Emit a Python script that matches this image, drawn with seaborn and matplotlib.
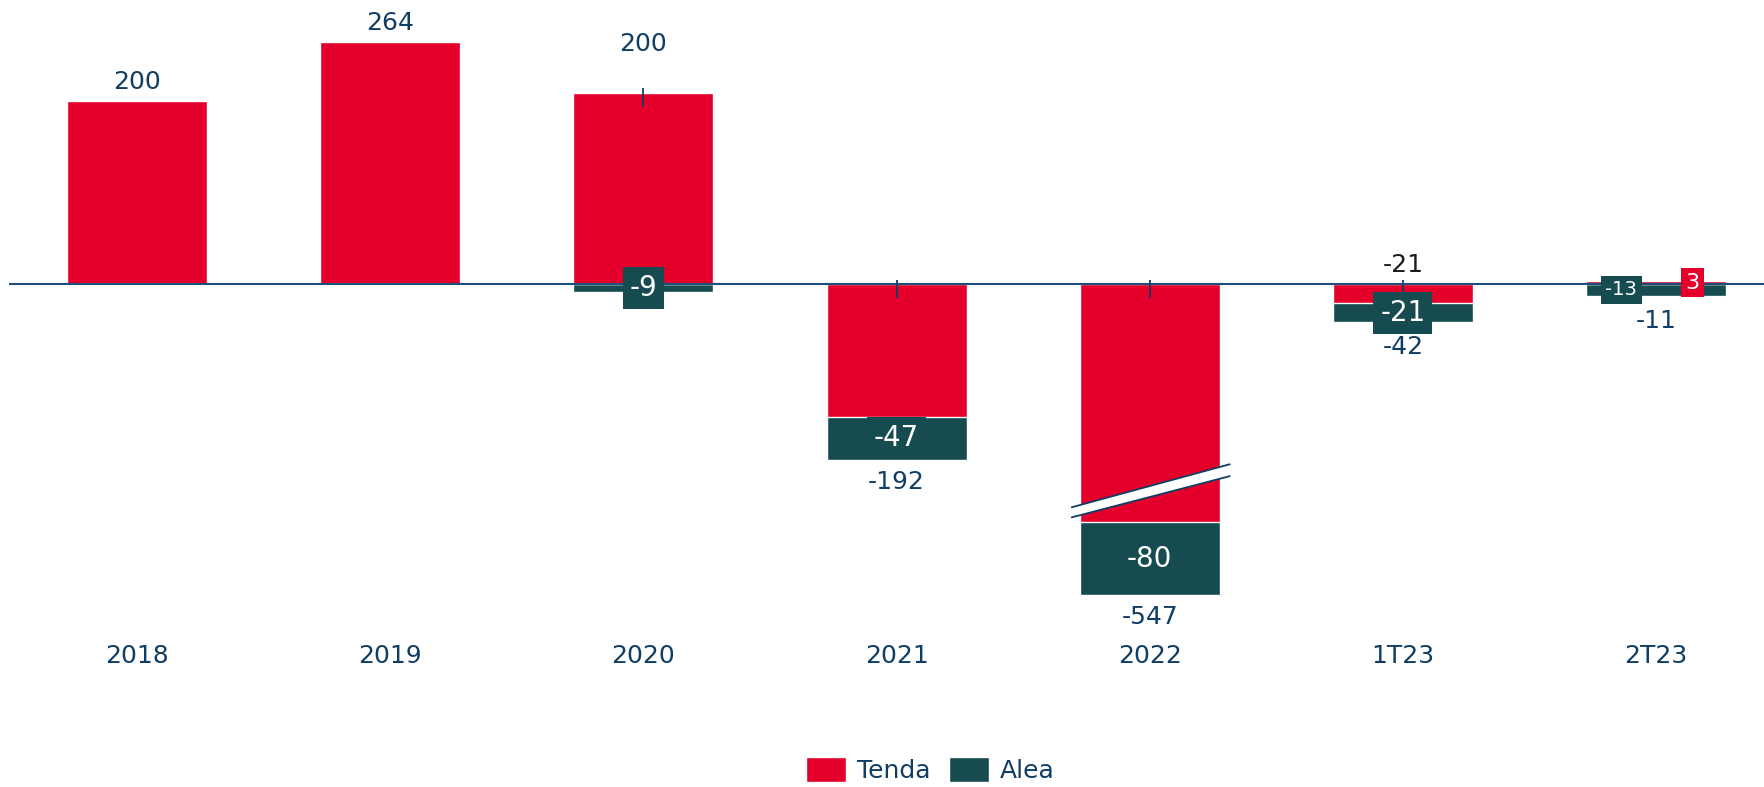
import numpy as np
import pandas as pd
import matplotlib
matplotlib.use('Agg')
import matplotlib.pyplot as plt
import seaborn as sns
from matplotlib.patches import Patch, Polygon

periodos = ['2018', '2019', '2020', '2021', '2022', '1T23', '2T23']
tenda = [200, 264, 209, -145, -467, -21, 3]
alea = [0, 0, -9, -47, -80, -21, -13]
total = [200, 264, 200, -192, -547, -42, -11]
# pequenas marcas verticais que aparecem no gráfico original
marca_sup = [np.nan, np.nan, 214, 4, 4, 4, np.nan]
marca_inf = [np.nan, np.nan, 193, -15, -15, -10, np.nan]

corte_2022 = -260  # barra de 2022 truncada (eixo quebrado)

VERMELHO = '#e4002b'
VERDE = '#164b4f'
AZUL = '#0f3d64'
FS = 18

sns.set_theme(style='white')
plt.rcParams['font.family'] = ['DejaVu Sans']

tenda_plot = [max(v, corte_2022) for v in tenda]
alea_plot = [min(t, 0) + a for t, a in zip(tenda_plot, alea)]

df = pd.DataFrame({'periodo': periodos, 'tenda': tenda_plot, 'alea': alea_plot})

fig = plt.figure(figsize=(17.65, 7.87), dpi=100)
ax = fig.add_axes([0.005, 167 / 787, 0.995, 620 / 787])

sns.barplot(data=df, x='periodo', y='alea', color=VERDE, width=0.553,
            saturation=1, ax=ax)
sns.barplot(data=df, x='periodo', y='tenda', color=VERMELHO, width=0.553,
            saturation=1, ax=ax)

ax.set_xlim(-0.506, 6.43)
ax.set_ylim(-367.2, 310.4)
ax.axhline(0, color='#1d4f7a', lw=1.5, zorder=5)
ax.vlines(range(len(periodos)), marca_inf, marca_sup, color=AZUL, lw=1.3, zorder=6)

for s in ax.spines.values():
    s.set_visible(False)
ax.set_yticks([])
ax.set_xlabel('')
ax.set_ylabel('')
ax.tick_params(axis='x', length=0, pad=17, labelsize=FS, labelcolor=AZUL)

# quebra do eixo em 2022
i22 = periodos.index('2022')
xl, xr = i22 - 0.308, i22 + 0.316
band = Polygon([(xl, corte_2022 + 5), (xr, corte_2022 + 50),
                (xr, corte_2022 + 63), (xl, corte_2022 + 16)],
               closed=True, facecolor='white', edgecolor='none', zorder=6)
ax.add_patch(band)
ax.plot([xl, xr], [corte_2022 + 16, corte_2022 + 63], color=AZUL, lw=1.3, zorder=7)
ax.plot([xl, xr], [corte_2022 + 5, corte_2022 + 50], color=AZUL, lw=1.3, zorder=7)

# rótulos dos totais
for i, v in enumerate(total):
    if v >= 0:
        topo = max(tenda_plot[i], 0)
        extra = 21 if alea[i] != 0 else 0
        ax.annotate(f'{v}', (i, topo), xytext=(0, 14 + extra), textcoords='offset points',
                    ha='center', va='center', fontsize=FS, color=AZUL)
    else:
        off = -18 if abs(v) < 50 else -16
        ax.annotate(f'{v}', (i, alea_plot[i]), xytext=(0, off),
                    textcoords='offset points', ha='center', va='center',
                    fontsize=FS, color=AZUL)

# rótulos da Alea (caixa na cor da barra)
for i, a in enumerate(alea):
    if a == 0:
        continue
    base = min(tenda_plot[i], 0)
    meio = base + a / 2
    dx = -25 if periodos[i] == '2T23' else 0
    fs = 14 if periodos[i] == '2T23' else 20
    ax.annotate(f'{a}', (i, meio), xytext=(dx, 0), textcoords='offset points',
                ha='center', va='center', fontsize=fs, color='white', zorder=8,
                bbox=dict(boxstyle='square,pad=0.25', fc=VERDE, ec='none'))

# rótulos da Tenda em 1T23 e 2T23
i1 = periodos.index('1T23')
ax.annotate(f'{tenda[i1]}', (i1, 0), xytext=(0, 14), textcoords='offset points',
            ha='center', va='center', fontsize=FS, color='#1a1a1a')
i2 = periodos.index('2T23')
ax.annotate(f'{tenda[i2]}', (i2, tenda[i2] / 2), xytext=(26, 0), textcoords='offset points',
            ha='center', va='center', fontsize=16, color='white', zorder=8,
            bbox=dict(boxstyle='square,pad=0.2', fc=VERMELHO, ec='none'))

handles = [Patch(facecolor=VERMELHO, label='Tenda'), Patch(facecolor=VERDE, label='Alea')]
leg = fig.legend(handles=handles, loc='center', bbox_to_anchor=(0.527, 0.022), ncol=2,
                 frameon=False, fontsize=FS, handlelength=1.6, handleheight=1.2,
                 handletextpad=0.45, columnspacing=0.72)
for t in leg.get_texts():
    t.set_color(AZUL)

fig.savefig('out.png', dpi=100)
